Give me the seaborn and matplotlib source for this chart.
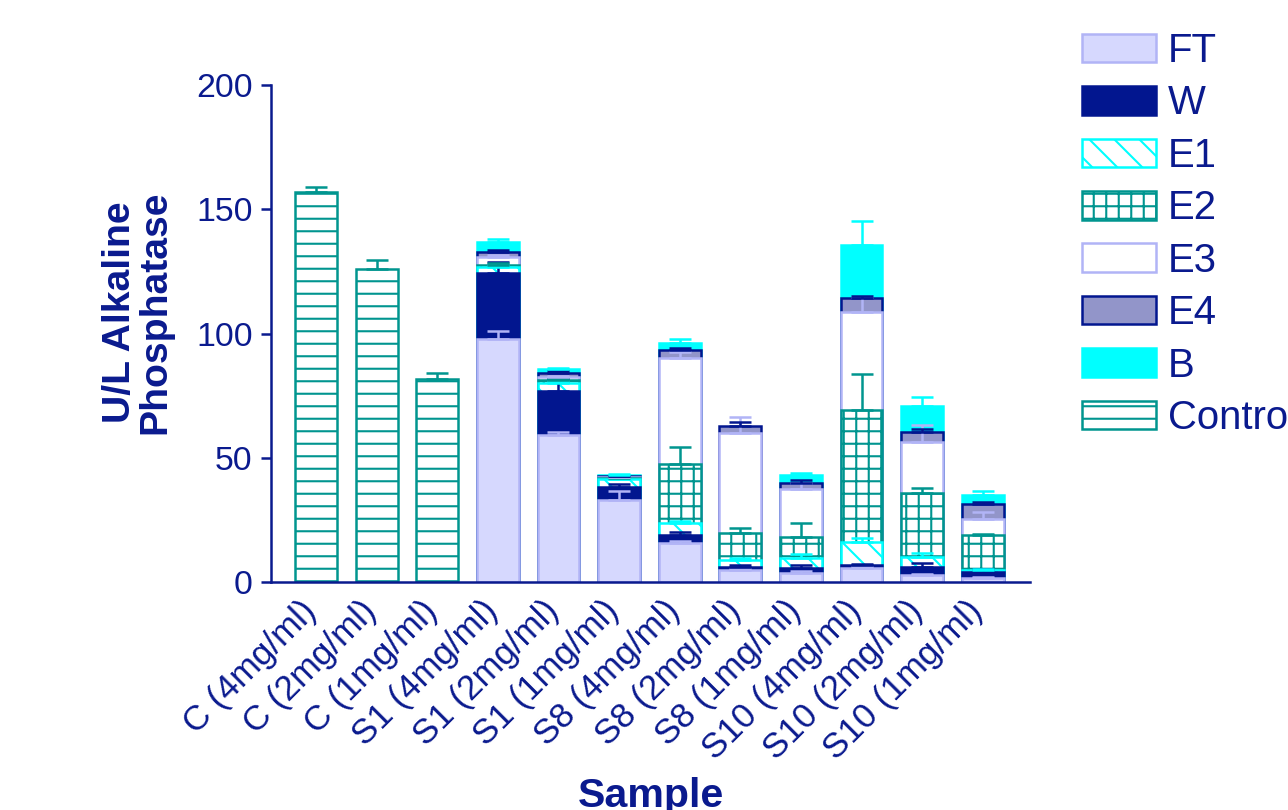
import numpy as np
import pandas as pd
import matplotlib
matplotlib.use("Agg")
import matplotlib.pyplot as plt
import matplotlib.transforms as mtransforms
import seaborn as sns
from matplotlib.patches import Patch

# ---------------- data ----------------
samples = ["C (4mg/ml)", "C (2mg/ml)", "C (1mg/ml)",
           "S1 (4mg/ml)", "S1 (2mg/ml)", "S1 (1mg/ml)",
           "S8 (4mg/ml)", "S8 (2mg/ml)", "S8 (1mg/ml)",
           "S10 (4mg/ml)", "S10 (2mg/ml)", "S10 (1mg/ml)"]

control     = [157.1, 126.1, 81.7, 0, 0, 0, 0, 0, 0, 0, 0, 0]
control_err = [1.7, 3.3, 2.4, 0, 0, 0, 0, 0, 0, 0, 0, 0]

FT     = [0, 0, 0, 97.7, 59.2, 33.0, 15.6, 4.8, 3.5, 5.5, 2.8, 1.6]
FT_err = [0, 0, 0, 3.3, 1.3, 3.6, 0.8, 0.5, 0.8, 0.6, 0.5, 0.4]
W      = [0, 0, 0, 26.5, 17.8, 5.3, 3.3, 1.4, 2.0, 1.3, 3.4, 2.5]
W_err  = [0, 0, 0, 4.7, 4.5, 1.0, 1.3, 0.5, 1.3, 0.5, 1.6, 1.0]
E1     = [0, 0, 0, 2.5, 3.0, 3.2, 5.0, 2.7, 4.0, 9.4, 4.0, 0.7]
E1_err = [0, 0, 0, 1.0, 0.8, 0.5, 0.8, 0.8, 1.8, 1.4, 1.6, 0.3]
E2     = [0, 0, 0, 1.0, 1.3, 0.4, 23.5, 10.7, 8.7, 53.0, 25.5, 14.0]
E2_err = [0, 0, 0, 0.5, 0.5, 0.2, 7.0, 2.2, 5.7, 14.5, 2.0, 0.6]
E3     = [0, 0, 0, 3.0, 1.0, 0.3, 42.6, 40.2, 19.1, 39.6, 20.8, 6.7]
E3_err = [0, 0, 0, 1.0, 0.5, 0.2, 2.7, 6.5, 2.7, 5.8, 6.7, 2.7]
E4     = [0, 0, 0, 2.0, 2.0, 0.4, 3.4, 3.1, 2.7, 5.3, 4.0, 5.8]
E4_err = [0, 0, 0, 1.0, 0.8, 0.2, 0.8, 1.6, 1.0, 1.0, 1.2, 0.8]
B      = [0, 0, 0, 4.0, 1.5, 0.6, 2.7, 0.0, 3.0, 21.5, 10.3, 3.6]
B_err  = [0, 0, 0, 1.2, 0.5, 0.3, 1.7, 0.0, 0.8, 9.7, 3.7, 1.6]

layer_names = ["FT", "W", "E1", "E2", "E3", "E4", "B"]
layer_vals = [FT, W, E1, E2, E3, E4, B]
layer_errs = [FT_err, W_err, E1_err, E2_err, E3_err, E4_err, B_err]

# ---------------- styles ----------------
NAVY = "#0a1a8e"
WFILL = "#02168f"
LAV_FILL = "#d6d8fe"
LAV_EDGE = "#b1b4f6"
CYAN = "#00ffff"
TEAL = "#00958f"
GRAY = "#9295c9"

styles = {
    "FT": dict(face=LAV_FILL, edge=LAV_EDGE, hatch=None, err=LAV_EDGE),
    "W":  dict(face=WFILL, edge=WFILL, hatch=None, err=WFILL),
    "E1": dict(face="white", edge=CYAN, hatch="\\", err=CYAN),
    "E2": dict(face="white", edge=TEAL, hatch="+", err=TEAL),
    "E3": dict(face="white", edge=LAV_EDGE, hatch=None, err=LAV_EDGE),
    "E4": dict(face=GRAY, edge=WFILL, hatch=None, err=WFILL),
    "B":  dict(face=CYAN, edge=CYAN, hatch=None, err=CYAN),
    "Control": dict(face="white", edge=TEAL, hatch="-", err=TEAL),
}

# ---------------- table ----------------
rows = []
for name, vals, errs in zip(layer_names, layer_vals, layer_errs):
    for s, v, e in zip(samples, vals, errs):
        rows.append(dict(sample=s, layer=name, value=v, err=e))
df = pd.DataFrame(rows)
df["layer"] = pd.Categorical(df["layer"], categories=layer_names, ordered=True)
df = df.sort_values(["sample", "layer"])
df["top"] = df.groupby("sample", observed=True)["value"].cumsum()
df.loc[df["value"] <= 0, "top"] = np.nan

ctrl = pd.DataFrame(dict(sample=samples, value=control, err=control_err))
ctrl["top"] = ctrl["value"].where(ctrl["value"] > 0)

# ---------------- figure ----------------
sns.set_style("ticks")
plt.rcParams["font.family"] = ["Liberation Sans", "DejaVu Sans"]
plt.rcParams["hatch.linewidth"] = 2.0

DPI = 75
fig = plt.figure(figsize=(1288 / DPI, 810 / DPI), dpi=DPI)
ax = fig.add_axes([271 / 1288, 1 - 582 / 810, (1030 - 271) / 1288, (582 - 85) / 810])

BAR_W = 0.69
LW = 2.4

# cumulative bars, drawn from top layer down so lower segments overlay
for name in reversed(layer_names):
    st = styles[name]
    sub = df[df["layer"] == name]
    sns.barplot(data=sub, x="sample", y="top", order=samples, ax=ax,
                color=st["face"], saturation=1, width=BAR_W, errorbar=None,
                edgecolor=st["edge"], linewidth=LW, hatch=st["hatch"])

st = styles["Control"]
sns.barplot(data=ctrl, x="sample", y="top", order=samples, ax=ax,
            color=st["face"], saturation=1, width=BAR_W, errorbar=None,
            edgecolor=st["edge"], linewidth=LW, hatch=st["hatch"])

# error bars (upper only)
pos = {s: i for i, s in enumerate(samples)}
for name in layer_names:
    sub = df[(df["layer"] == name) & df["top"].notna() & (df["err"] > 0)]
    if len(sub) == 0:
        continue
    xs = sub["sample"].map(pos).values
    ax.errorbar(xs, sub["top"].values, yerr=[np.zeros(len(sub)), sub["err"].values],
                fmt="none", ecolor=styles[name]["err"], elinewidth=LW,
                capsize=10.5, capthick=LW, zorder=6)
csub = ctrl[ctrl["top"].notna()]
ax.errorbar(csub["sample"].map(pos).values, csub["top"].values,
            yerr=[np.zeros(len(csub)), csub["err"].values],
            fmt="none", ecolor=TEAL, elinewidth=LW, capsize=10.5, capthick=LW, zorder=6)

# ---------------- axes ----------------
ax.set_ylim(0, 200)
ax.set_yticks([0, 50, 100, 150, 200])
ax.set_xlim(-0.743, 11.78)
sns.despine(ax=ax)
for side in ["left", "bottom"]:
    ax.spines[side].set_color(NAVY)
    ax.spines[side].set_linewidth(LW)

ax.tick_params(axis="y", length=9.6, width=LW, color=NAVY, labelcolor=NAVY,
               labelsize=32.5, pad=8)
ax.tick_params(axis="x", length=0, labelcolor=NAVY, labelsize=33.5, pad=23)
shift = mtransforms.ScaledTranslation(-5 / DPI, 0, fig.dpi_scale_trans)
for lbl in ax.get_xticklabels():
    lbl.set_rotation(45)
    lbl.set_ha("right")
    lbl.set_va("center")
    lbl.set_rotation_mode("anchor")
    lbl.set_transform(lbl.get_transform() + shift)

ax.set_xlabel("Sample", fontsize=39.5, fontweight="bold", color=NAVY)
ax.xaxis.set_label_coords(0.5, -0.393)
ax.set_ylabel("U/L Alkaline\nPhosphatase", fontsize=37.5, fontweight="bold",
              color=NAVY, linespacing=1.0)
ax.yaxis.set_label_coords(-0.128, 0.543)

# ---------------- legend ----------------
leg_names = layer_names + ["Control"]
handles = [Patch(facecolor=styles[n]["face"], edgecolor=styles[n]["edge"],
                 hatch=styles[n]["hatch"], linewidth=LW) for n in leg_names]
fig.legend(handles, leg_names, loc="upper left",
           bbox_to_anchor=(1082 / 1288, 1 - 32 / 810), frameon=False,
           fontsize=38.5, handlelength=1.85, handleheight=0.72,
           handletextpad=0.3, labelspacing=0.36, borderpad=0, borderaxespad=0,
           labelcolor=NAVY)

fig.savefig("out.png", dpi=DPI)
